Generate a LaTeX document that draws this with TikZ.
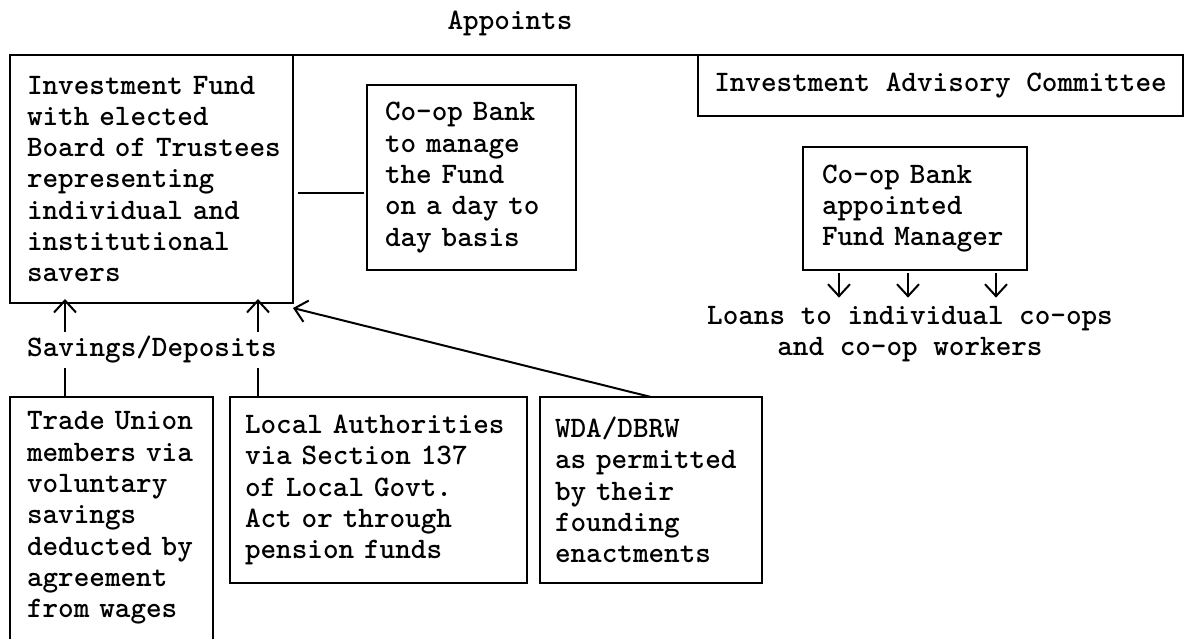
\documentclass[tikz,border=0pt]{standalone}
\usepackage{tikz}
\usetikzlibrary{arrows.meta}
\newcommand\boxfont{\ttfamily\fontseries{b}\fontsize{14.86pt}{15.65pt}\selectfont}

\begin{document}
\begin{tikzpicture}[x=0.5pt,y=-0.5pt,every node/.style={font=\boxfont},
  box/.style={draw,line width=1pt,anchor=north west,align=left,inner ysep=0pt,outer sep=0pt},
  arr/.style={-{Straight Barb[length=6pt,width=11pt]},line width=1pt}]

\useasboundingbox (0,0) rectangle (1190,639);

\node[box,minimum width=141.5pt,minimum height=124pt,text width=124.5pt,inner xsep=8.5pt] (fund) at (10,55)
  {Investment~Fund\\with~elected\\Board~of~Trustees\\representing\\individual~and\\institutional\\savers};
\node[box,minimum width=104.5pt,minimum height=92.5pt,text width=86.5pt,inner xsep=9pt] (cb) at (367,85)
  {Co-op~Bank\\to~manage\\the~Fund\\on~a~day~to\\day~basis};
\node[box,align=center,minimum width=242.5pt,minimum height=30.5pt] (iac) at (698,55)
  {Investment Advisory Committee};
\node[box,minimum width=112pt,minimum height=61.5pt,text width=93pt,inner xsep=9.5pt] (fm) at (803,147)
  {Co-op~Bank\\appointed\\Fund~Manager};

\node[box,draw=none,minimum width=101.5pt,minimum height=121pt,text width=84.5pt,inner xsep=8.5pt] (tu) at (10,397)
  {Trade~Union\\members~via\\voluntary\\savings\\deducted~by\\agreement\\from~wages};
\draw[line width=1pt](tu.south west)--(tu.north west)--(tu.north east)--(tu.south east);
\node[box,minimum width=148.5pt,minimum height=93pt,text width=133.5pt,inner xsep=7.5pt] (la) at (230,397)
  {Local~Authorities\\via~Section~137\\of~Local~Govt.\\Act~or~through\\pension~funds};
\node[box,minimum width=111pt,minimum height=93pt,text width=96pt,inner xsep=7.5pt] (wda) at (540,397)
  {WDA/DBRW\\as~permitted\\by~their\\founding\\enactments};

% appoints
\node (appt) at (510,23) {Appoints};
\draw[line width=1pt](fund.north east)--(iac.north west);

\coordinate (cbj) at ([yshift=-7.75pt]cb.west);
\draw[line width=1pt,shorten <=2.5pt,shorten >=1.5pt](cbj -| fund.east)--(cbj);

% savings
\node[inner sep=2pt] (sav) at (152,350) {Savings/Deposits};
\coordinate (sd1) at (65,0);
\coordinate (sd2) at (258,0);
\draw[arr,shorten >=-2pt](sd1 |- sav.north)--(sd1 |- fund.south);
\draw[arr,shorten >=-2pt](sd2 |- sav.north)--(sd2 |- fund.south);
\draw[line width=1pt](sd1 |- sav.south)--(sd1 |- tu.north);
\draw[line width=1pt](sd2 |- sav.south)--(sd2 |- la.north);
\draw[arr](wda.north)--([yshift=-2.5pt]fund.south east);

% loans
\node[align=center,inner sep=2pt] (loans) at (910,334) {Loans to individual co-ops\\and co-op workers};
\foreach \x in {839,908,996}
  \draw[arr,shorten <=1.5pt,shorten >=2pt](\x,0 |- fm.south)--(\x,0 |- loans.north);

\end{tikzpicture}
\end{document}
